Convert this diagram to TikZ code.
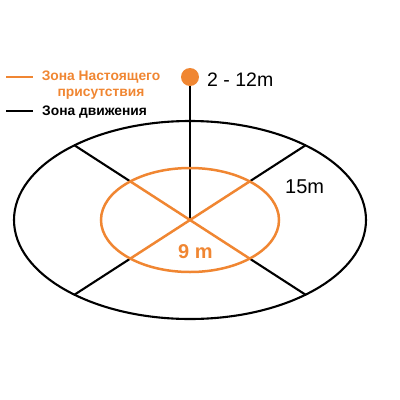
\documentclass[tikz,border=0pt]{standalone}
\usepackage{fontspec}
\setmainfont{Liberation Sans}
\usetikzlibrary{calc}
\definecolor{zoneorange}{RGB}{240,134,50}
\tikzset{
  zonetext/.style={anchor=base west, inner sep=0pt, font=\bfseries\fontsize{13.8}{15}\selectfont},
  sizetext/.style={anchor=base west, inner sep=0pt, font=\fontsize{20}{22}\selectfont},
}
\begin{document}
\begin{tikzpicture}[x=1pt,y=-1pt]
                \useasboundingbox (0,0) rectangle (400,400);
                \coordinate (c) at (190,220);
                \coordinate (ur) at ($(c)+(116,-75)$);
                \coordinate (ul) at ($(c)+(-116,-75)$);
                \coordinate (ll) at ($(c)+(-116,75)$);
                \coordinate (lr) at ($(c)+(116,75)$);
                \coordinate (iur) at ($(c)!0.514!(ur)$);
                \coordinate (iul) at ($(c)!0.514!(ul)$);
                \coordinate (ill) at ($(c)!0.514!(ll)$);
                \coordinate (ilr) at ($(c)!0.514!(lr)$);
                \node[circle, fill=zoneorange, minimum size=18pt, inner sep=0pt] (lamp) at (190,77) {};
                \draw[line width=2.1pt] (c) ellipse [x radius=176, y radius=99];
                \draw[line width=2.1pt] (iur) -- (ur);
                \draw[line width=2.1pt] (iul) -- (ul);
                \draw[line width=2.1pt] (ill) -- (ll);
                \draw[line width=2.1pt] (ilr) -- (lr);
                \draw[line width=2.1pt] (c) -- (lamp);
                \draw[zoneorange, line width=2.5pt] (c) ellipse [x radius=89, y radius=52];
                \draw[zoneorange, line width=2.5pt] (iul) -- (ilr);
                \draw[zoneorange, line width=2.5pt] (ill) -- (iur);
                \node[sizetext, font=\fontsize{19.5}{21}\selectfont] (height) at (207,86) {2 - 12m};
                \node[sizetext] (outer) at (285,193) {15m};
                \node[sizetext, text=zoneorange, font=\bfseries\fontsize{20}{22}\selectfont] (inner) at (178,258) {9 m};
                \coordinate (k1a) at (6,77);
                \coordinate (k1b) at (33,77);
                \coordinate (k2a) at (6,111);
                \coordinate (k2b) at (33,111);
                \draw[zoneorange, line width=2.2pt] (k1a) -- (k1b);
                \draw[line width=2.2pt] (k2a) -- (k2b);
                \node[zonetext, anchor=base, text=zoneorange] (pres1) at (101,80.7) {Зона Настоящего};
                \node[zonetext, anchor=base, text=zoneorange] (pres2) at (101,96) {присутствия};
                \node[zonetext] (motion) at (42,115) {Зона движения};
            \end{tikzpicture}
\end{document}
